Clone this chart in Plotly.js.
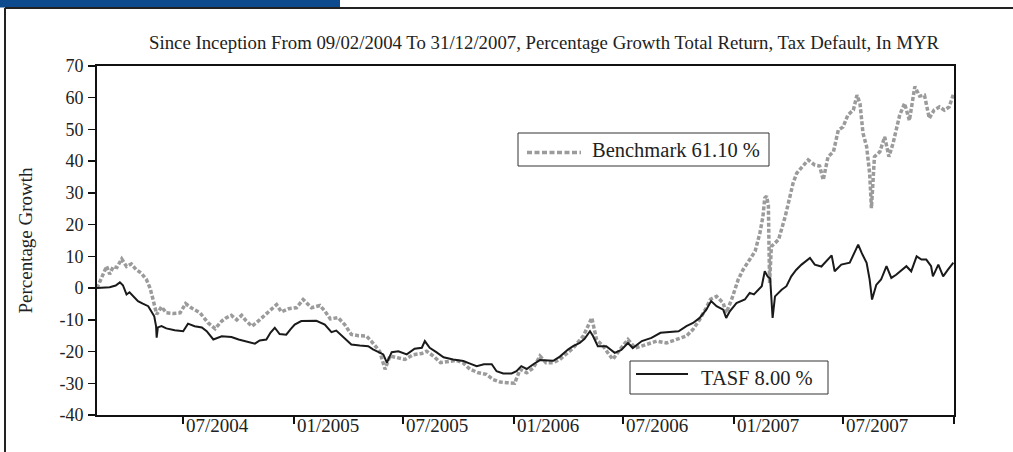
<!DOCTYPE html>
<html><head><meta charset="utf-8">
<script src="https://cdn.plot.ly/plotly-3.0.1.min.js"></script>
<style>html,body{margin:0;padding:0;background:#fff;overflow:hidden}#chart{width:1013px;height:452px}</style>
</head><body><div id="chart"></div>
<script>
const chartTitle = "Since Inception From 09/02/2004 To 31/12/2007, Percentage Growth Total Return, Tax Default, In MYR";
const yTitle = "Percentage Growth";
const benchName = "Benchmark 61.10 %";
const tasfName = "TASF 8.00 %";

const tickDates = ["2004-07-01","2005-01-01","2005-07-01","2006-01-01","2006-07-01","2007-01-01","2007-07-01","2008-01-01"];
const tickLabels = ["07/2004","01/2005","07/2005","01/2006","07/2006","01/2007","07/2007",""];
const yTicks = [-40,-30,-20,-10,0,10,20,30,40,50,60,70];
const yTickLabels = ["-40","-30","-20","-10","0","10","20","30","40","50","60","70"];

const tasfDates = ["2004-02-09","2004-03-01","2004-03-11","2004-03-18","2004-03-23","2004-03-29","2004-04-03","2004-04-10","2004-04-17","2004-04-25",
"2004-05-04","2004-05-09","2004-05-14","2004-05-17","2004-05-18","2004-05-20","2004-05-26","2004-06-03","2004-06-17","2004-07-01",
"2004-07-09","2004-07-20","2004-08-01","2004-08-09","2004-08-20","2004-09-03","2004-09-19","2004-10-01","2004-10-16","2004-10-28",
"2004-11-05","2004-11-16","2004-11-23","2004-11-30","2004-12-08","2004-12-19","2004-12-26","2005-01-02","2005-01-13","2005-01-25",
"2005-02-07","2005-02-21","2005-03-04","2005-03-12","2005-03-23","2005-04-06","2005-04-20","2005-05-04","2005-05-12","2005-05-29",
"2005-06-04","2005-06-12","2005-06-23","2005-07-07","2005-07-20","2005-08-01","2005-08-06","2005-08-14","2005-08-25","2005-09-06",
"2005-09-22","2005-10-09","2005-10-20","2005-10-31","2005-11-12","2005-11-25","2005-12-03","2005-12-14","2005-12-28","2006-01-05",
"2006-01-13","2006-01-22","2006-02-02","2006-02-13","2006-03-07","2006-03-18","2006-04-01","2006-04-09","2006-04-20","2006-04-28",
"2006-05-07","2006-05-12","2006-05-20","2006-06-03","2006-06-17","2006-06-28","2006-07-09","2006-07-17","2006-08-01","2006-08-17",
"2006-09-01","2006-09-15","2006-10-01","2006-10-14","2006-10-25","2006-11-05","2006-11-16","2006-11-24","2006-12-03","2006-12-14",
"2006-12-19","2006-12-25","2007-01-05","2007-01-19","2007-01-27","2007-02-03","2007-02-16","2007-02-21","2007-02-26","2007-03-02",
"2007-03-06","2007-03-10","2007-03-21","2007-03-29","2007-04-06","2007-04-14","2007-04-23","2007-05-07","2007-05-15","2007-05-26",
"2007-06-06","2007-06-12","2007-06-17","2007-06-28","2007-07-12","2007-07-20","2007-07-26","2007-08-01","2007-08-09","2007-08-14",
"2007-08-18","2007-08-25","2007-09-02","2007-09-11","2007-09-19","2007-09-27","2007-10-06","2007-10-14","2007-10-22","2007-10-31",
"2007-11-08","2007-11-16","2007-11-24","2007-11-27","2007-12-06","2007-12-14","2007-12-22","2007-12-31"];
const tasfValues = [0,0.3,0.8,1.8,0.9,-2.0,-1.3,-2.8,-4.1,-4.9,
-5.7,-7.3,-8.9,-12.0,-15.6,-12.4,-12.0,-12.7,-13.3,-13.6,
-11.2,-12.0,-12.4,-13.6,-16.2,-15.2,-15.4,-16.2,-16.8,-17.5,
-16.5,-16.2,-14.0,-12.5,-14.5,-14.7,-13.0,-11.5,-10.4,-10.3,
-10.3,-11.5,-13.9,-13.4,-15.4,-17.8,-18.1,-18.3,-19.3,-20.9,
-23.5,-20.2,-19.9,-20.9,-19.1,-18.8,-16.7,-18.8,-20.2,-21.8,
-22.5,-23.0,-23.8,-24.6,-24.0,-24.0,-26.2,-26.9,-26.9,-26.2,
-24.6,-25.5,-24.0,-22.7,-22.9,-21.6,-19.3,-18.3,-17.3,-16.0,
-13.6,-15.1,-18.3,-18.3,-20.4,-19.5,-17.3,-18.9,-16.7,-15.7,
-14.1,-13.8,-13.6,-12.0,-11.0,-9.4,-6.8,-4.1,-5.7,-6.8,
-9.4,-7.3,-4.7,-3.6,-1.5,-2.0,0.6,5.3,3.6,3.0,
-9.4,-2.6,-0.5,0.6,3.7,5.7,7.4,9.5,7.4,6.8,
9.2,10.3,5.3,7.4,8.0,11.6,13.7,11.0,8.0,2.7,
-3.6,1.0,2.7,6.9,3.2,4.2,5.8,6.9,5.3,10.0,
9.0,9.0,6.9,3.7,7.4,3.7,5.8,8.0];

const benchDates = ["2004-02-09","2004-02-17","2004-02-25","2004-03-01","2004-03-07","2004-03-13","2004-03-21","2004-03-29","2004-04-06","2004-04-14",
"2004-04-22","2004-05-01","2004-05-07","2004-05-12","2004-05-18","2004-05-26","2004-06-03","2004-06-14","2004-06-26","2004-07-05",
"2004-07-15","2004-07-29","2004-08-11","2004-08-23","2004-09-03","2004-09-10","2004-09-19","2004-09-28","2004-10-06","2004-10-13",
"2004-10-23","2004-10-30","2004-11-05","2004-11-19","2004-12-03","2004-12-11","2004-12-23","2005-01-05","2005-01-16","2005-01-30",
"2005-02-13","2005-02-21","2005-03-02","2005-03-15","2005-03-26","2005-04-06","2005-04-18","2005-05-01","2005-05-09","2005-05-23",
"2005-06-01","2005-06-09","2005-06-20","2005-07-04","2005-07-18","2005-08-01","2005-08-09","2005-08-20","2005-09-01","2005-09-13",
"2005-09-27","2005-10-08","2005-10-20","2005-11-03","2005-11-16","2005-11-27","2005-12-09","2005-12-20","2006-01-02","2006-01-11",
"2006-01-22","2006-02-02","2006-02-13","2006-02-23","2006-03-07","2006-03-18","2006-03-28","2006-04-09","2006-04-26","2006-05-03",
"2006-05-10","2006-05-18","2006-05-29","2006-06-06","2006-06-14","2006-06-26","2006-07-09","2006-07-21","2006-08-09","2006-08-26",
"2006-09-11","2006-09-27","2006-10-14","2006-10-25","2006-11-05","2006-11-16","2006-11-23","2006-12-03","2006-12-14","2006-12-19",
"2006-12-28","2007-01-08","2007-01-16","2007-01-27","2007-02-05","2007-02-13","2007-02-18","2007-02-21","2007-02-24","2007-02-27",
"2007-03-01","2007-03-04","2007-03-16","2007-03-27","2007-04-03","2007-04-09","2007-04-15","2007-04-23","2007-05-04","2007-05-15",
"2007-05-23","2007-05-29","2007-06-06","2007-06-15","2007-06-23","2007-07-01","2007-07-09","2007-07-18","2007-07-24","2007-07-29",
"2007-08-03","2007-08-09","2007-08-14","2007-08-17","2007-08-22","2007-08-31","2007-09-08","2007-09-15","2007-09-22","2007-09-27",
"2007-10-03","2007-10-11","2007-10-19","2007-10-28","2007-11-05","2007-11-13","2007-11-21","2007-11-29","2007-12-08","2007-12-16",
"2007-12-24","2007-12-31"];
const benchValues = [0,3.7,6.9,4.4,6.8,6.5,9.2,6.8,7.6,5.8,
4.8,2.7,0,-3.6,-8.3,-5.9,-7.8,-8.0,-7.8,-4.9,
-6.3,-7.8,-10.9,-12.8,-10.4,-9.4,-8.6,-10.0,-8.6,-10.2,
-12.0,-11.0,-10.0,-7.8,-5.2,-7.5,-6.5,-6.2,-3.6,-6.2,
-5.5,-7.2,-9.7,-9.3,-11.5,-14.6,-15.0,-15.1,-16.7,-19.9,
-25.6,-21.4,-22.0,-22.5,-21.0,-20.6,-19.9,-21.4,-23.5,-23.2,
-22.8,-23.5,-25.6,-26.7,-27.2,-28.8,-29.6,-29.8,-30.0,-25.6,
-26.7,-25.2,-21.4,-23.5,-23.5,-22.5,-21.0,-18.9,-15.1,-12.5,
-9.4,-16.3,-18.3,-20.5,-22.5,-19.3,-16.2,-18.9,-17.8,-16.7,
-17.3,-16.3,-15.1,-13.0,-9.9,-6.2,-3.5,-2.6,-4.7,-7.8,
-3.6,2.7,5.8,9.0,11.6,17.4,22.6,28.4,29.0,26.0,
1.6,13.1,15.3,22.6,27.8,33.1,36.2,37.8,40.4,38.8,
38.5,34.1,41.4,43.0,49.8,50.8,54.6,56.1,60.8,58.2,
48.8,44.6,36.2,25.2,41.4,43.0,47.7,41.4,45.7,49.8,
54.6,58.2,52.8,63.5,60.5,60.8,53.5,56.1,57.1,56.1,
57.1,61.1];

const FONT = "Liberation Serif, Times New Roman, serif";
const L = 97, R = 954, T = 66, B = 415, W = 1013, H = 452;
const px = x => (x - L) / (R - L);
const py = y => (B - y) / (B - T);
const benchStyle = {color: "#9b9b9b", width: 3.5, dash: "4px,2px"};
const tasfStyle = {color: "#1a1a1a", width: 2};

const traces = [
  {x: benchDates, y: benchValues, type: "scatter", mode: "lines", name: benchName, line: benchStyle, hoverinfo: "x+y"},
  {x: tasfDates, y: tasfValues, type: "scatter", mode: "lines", name: tasfName, line: tasfStyle, hoverinfo: "x+y"}
];

const shapes = [
  {type: "rect", xref: "paper", yref: "paper", x0: px(0), x1: px(340), y0: py(0), y1: py(7.5), fillcolor: "#0d4a8e", line: {width: 0}},
  {type: "line", xref: "paper", yref: "paper", x0: px(5), x1: px(1013), y0: py(8), y1: py(8), line: {color: "#222", width: 2}},
  {type: "line", xref: "paper", yref: "paper", x0: px(5), x1: px(5), y0: py(8), y1: py(452), line: {color: "#222", width: 2}},
  {type: "rect", xref: "paper", yref: "paper", x0: px(518), x1: px(769), y0: py(133), y1: py(166), fillcolor: "#fff", line: {color: "#333", width: 1}},
  {type: "line", xref: "paper", yref: "paper", x0: px(527), x1: px(581), y0: py(152.5), y1: py(152.5), line: {color: benchStyle.color, width: 3.5, dash: "5px,2.5px"}},
  {type: "rect", xref: "paper", yref: "paper", x0: px(630), x1: px(828), y0: py(361), y1: py(394), fillcolor: "#fff", line: {color: "#333", width: 1}},
  {type: "line", xref: "paper", yref: "paper", x0: px(636), x1: px(688), y0: py(374), y1: py(374), line: {color: tasfStyle.color, width: 2}}
];

const annotations = [
  {xref: "paper", yref: "paper", x: px(590), y: py(150), xanchor: "left", yanchor: "middle", text: benchName, showarrow: false, font: {family: FONT, size: 20.5, color: "#222"}},
  {xref: "paper", yref: "paper", x: px(699), y: py(378), xanchor: "left", yanchor: "middle", text: tasfName, showarrow: false, font: {family: FONT, size: 20.5, color: "#222"}}
];

const layout = {
  width: W, height: H,
  margin: {l: L, r: W - R, t: T, b: H - B, pad: 0},
  paper_bgcolor: "#fff", plot_bgcolor: "#fff",
  showlegend: false,
  font: {family: FONT, color: "#222"},
  title: {text: chartTitle, font: {family: FONT, size: 18.8, color: "#222"}, xref: "container", yref: "container", x: 544 / W, xanchor: "center", y: 1 - 42 / H, yanchor: "middle"},
  xaxis: {
    type: "date", range: ["2004-02-09", "2008-01-01"],
    tickmode: "array", tickvals: tickDates, ticktext: tickLabels,
    ticks: "outside", ticklen: 7, tickwidth: 1.5, tickcolor: "#111",
    showline: true, linewidth: 2, linecolor: "#111", mirror: true,
    showgrid: false, zeroline: false,
    tickfont: {family: FONT, size: 19, color: "#222"},
    ticklabelshift: 34, ticklabelstandoff: -15,
    fixedrange: true
  },
  yaxis: {
    range: [-40, 70], tickmode: "array", tickvals: yTicks, ticktext: yTickLabels,
    ticks: "outside", ticklen: 7, tickwidth: 1.5, tickcolor: "#111",
    showline: true, linewidth: 2, linecolor: "#111", mirror: true,
    showgrid: false, zeroline: false,
    tickfont: {family: FONT, size: 18, color: "#222"},
    ticklabelstandoff: 1,
    title: {text: yTitle, font: {family: FONT, size: 19, color: "#222"}, standoff: 22},
    fixedrange: true
  },
  shapes: shapes,
  annotations: annotations
};

Plotly.newPlot("chart", traces, layout, {displayModeBar: false, staticPlot: true});
</script></body></html>
